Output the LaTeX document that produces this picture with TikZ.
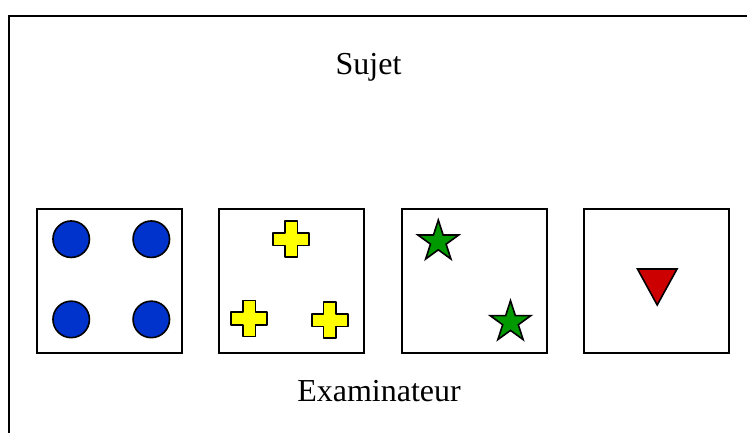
\documentclass[tikz,border=0pt]{standalone}
\usepackage{fontspec}
\setmainfont{Liberation Serif}
\usetikzlibrary{shapes.geometric}
\definecolor{cblue}{RGB}{0,51,204}
\definecolor{cyell}{RGB}{255,255,0}
\definecolor{cgreen}{RGB}{0,153,0}
\definecolor{cred}{RGB}{204,0,0}
\tikzset{
  x=1pt,y=-1pt,
  card/.style={draw=black,line width=1.9pt,fill=white,minimum width=145pt,minimum height=144.6pt,inner sep=0pt,outer sep=0pt},
  disc/.style={circle,draw=black,line width=1.6pt,fill=cblue,minimum size=36.5pt,inner sep=0pt,outer sep=0pt},
  starshape/.style={star,star points=5,star point ratio=2.618,draw=black,line width=1.6pt,fill=cgreen,minimum size=43pt,inner sep=0pt,outer sep=0pt,miter limit=10},
  trishape/.style={draw=black,line width=1.6pt,fill=cred,line join=miter},
  plusshape/.style={draw=black,line width=1.6pt,fill=cyell,line join=round},
  lbl/.style={font=\fontsize{32}{36}\selectfont,anchor=base,inner sep=0pt,text=black}
}
\newcommand{\plusat}[2]{%
  \draw[plusshape] (#1-6.3,#2-18) -- (#1+6.3,#2-18) -- (#1+6.3,#2-6.3) -- (#1+18,#2-6.3) -- (#1+18,#2+6.3) -- (#1+6.3,#2+6.3) -- (#1+6.3,#2+18) -- (#1-6.3,#2+18) -- (#1-6.3,#2+6.3) -- (#1-18,#2+6.3) -- (#1-18,#2-6.3) -- (#1-6.3,#2-6.3) -- cycle;}
\begin{document}
\begin{tikzpicture}
\useasboundingbox (0,0) rectangle (747,433);
\fill[white] (0,0) rectangle (747,433);
\coordinate (fa) at (8.6,433);
\coordinate (fb) at (8.6,16.4);
\coordinate (fc) at (747,16.4);
\draw[line width=1.9pt,line cap=butt] (fa) -- (fb) -- (fc);
\node[lbl] (sujet) at (368.5,75) {Sujet};
\node[lbl] (exam) at (379,401) {Examinateur};
\node[card] (c1) at (109.3,281) {};
\node[card] (c2) at (291.8,281) {};
\node[card] (c3) at (474.3,281) {};
\node[card] (c4) at (656.9,281) {};
\node[disc] (d1) at (71.2,239.2) {};
\node[disc] (d2) at (151.3,239.2) {};
\node[disc] (d3) at (71.2,319.4) {};
\node[disc] (d4) at (151.3,319.4) {};
\plusat{291}{239.2}
\plusat{249.2}{318.5}
\plusat{329.8}{320.2}
\node[starshape] (s1) at (438.3,241.6) {};
\node[starshape] (s2) at (510.5,322.2) {};
\draw[trishape] (637.5,269) -- (677,269) -- (657.2,305) -- cycle;
\end{tikzpicture}
\end{document}
